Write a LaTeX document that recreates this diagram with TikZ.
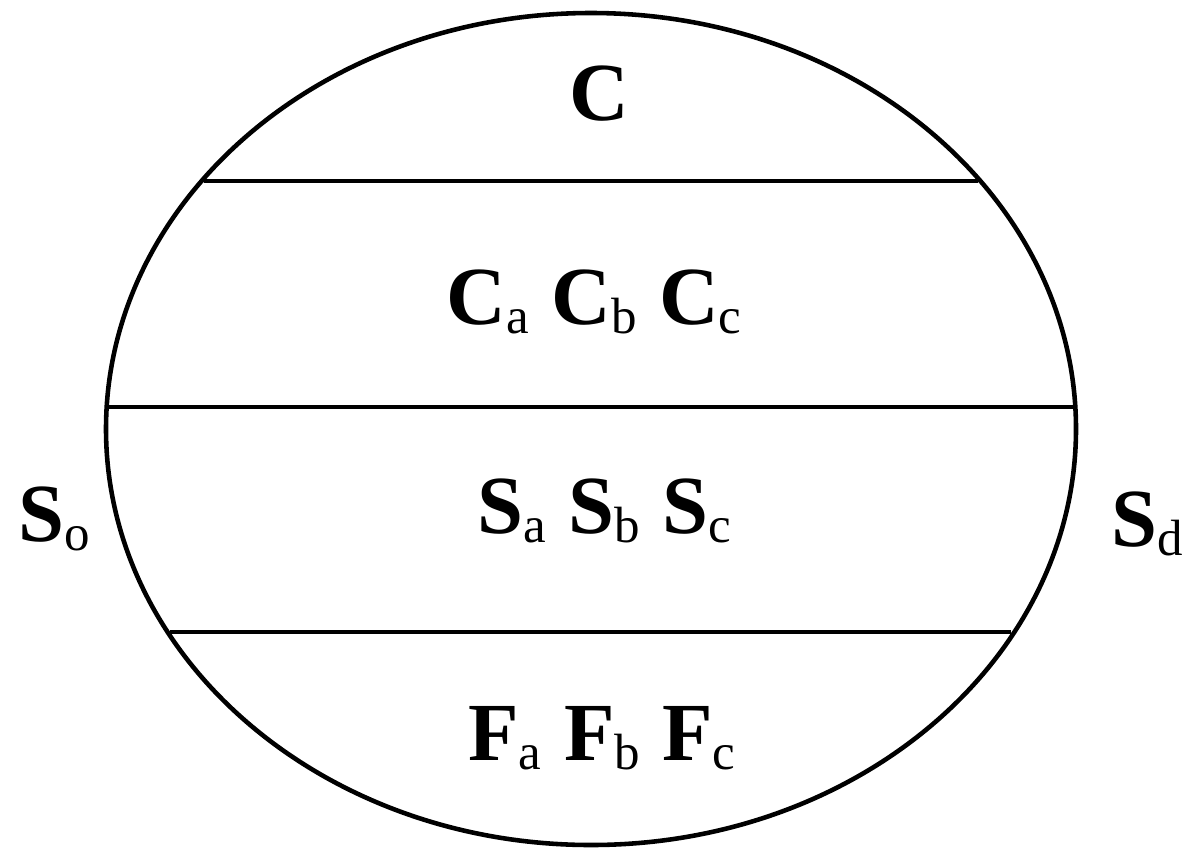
\documentclass[tikz,border=0pt]{standalone}
\usepackage{fontspec}
\setmainfont{Liberation Serif}
\usepackage{tikz}
\usetikzlibrary{positioning}

\newcommand{\sym}[2]{\textbf{#1}\raisebox{-0.18cm}{\fontsize{29}{29}\selectfont #2}}
\newcommand{\gap}{\hspace{0.45cm}}

\begin{document}
\begin{tikzpicture}[x=0.02cm, y=-0.02cm,
  rim/.style={line width=2.6pt, draw=black},
  band/.style={line width=2.3pt, draw=black},
  lbl/.style={font=\fontsize{47}{47}\selectfont, inner sep=0pt, anchor=base}]
\useasboundingbox (0,0) rectangle (1186,849);
\draw[rim] (591,429) ellipse [x radius=485, y radius=416];
\draw[band] (204,181) -- (978,181);
\draw[band] (106,407) -- (1076,407);
\draw[band] (170,632) -- (1011,632);
\node[lbl] (top) at (599,120) {\textbf{C}};
\node[lbl] (cr) at (594,324) {\sym{C}{a}\gap\sym{C}{b}\gap\sym{C}{c}};
\node[lbl] (sr) at (604,533) {\sym{S}{a}\gap\sym{S}{b}\gap\sym{S}{c}};
\node[lbl] (fr) at (602,760) {\sym{F}{a}\gap\sym{F}{b}\gap\sym{F}{c}};
\node[lbl] (so) at (54,541) {\sym{S}{o}};
\node[lbl] (sd) at (1147,546) {\sym{S}{d}};
\end{tikzpicture}
\end{document}
